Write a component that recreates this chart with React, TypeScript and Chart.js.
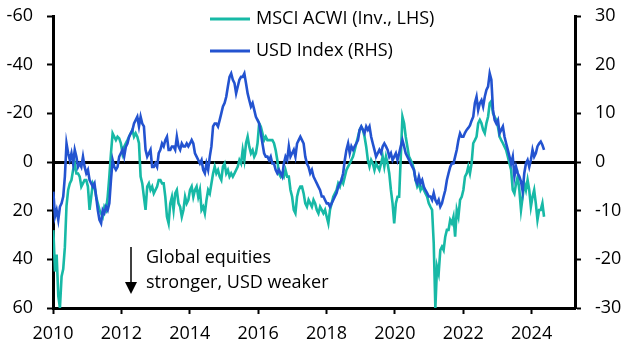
import React, { useEffect, useRef } from "react";
import { Chart, registerables } from "chart.js";

Chart.register(...registerables);

// ---- Data ----
// Regular (roughly fortnightly) date grid, decimal years
const START_YEAR = 2010.01;
const STEP_YEARS = 0.04817;

// MSCI ACWI, y/y % change, inverted (left axis)
const msciInv: number[] = [
  28, 45, 38, 55, 60, 47, 44, 35, 18, 11.5, 8.8, 7.4, 3.3, 0.6, 4.7, 4.7, 6.0, 10.1, 8.8, 7.4,
  7.4, 10.1, 19.7, 14.3, 8.8, 10.1, 14.3, 17.0, 19.7, 21.1, 22.5, 18.4, 19.7, 14.3, 6.0, -3.6, -11.8, -10.4, -9.0, -10.4,
  -9.7, -7.7, -3.6, -6.3, -7.7, -9.0, -10.4, -11.8, -13.2,
  -10.4, -11.8, -10.4, -7.7, 6.0, 8.8, 14.3, 19.7, 10.1, 8.8,
  11.5, 10.1, 12.9, 11.5, 10.1, 7.4, 7.4, 8.8, 8.8, 14.3,
  22.5, 25.2, 17.0, 14.3, 19.7, 12.9, 11.5, 17.0, 18.4, 22.5,
  19.7, 14.3, 17.0, 15.6, 11.5, 10.1, 14.3, 11.5, 10.1, 14.3,
  11.5, 19.7, 18.4, 21.1, 15.6, 11.5, 12.9, 8.8, 4.7, 1.9,
  4.7,
  3.3, 6.0, 7.4, 1.9, 0.6, 4.7, 3.3, 6.0, 4.7, 6.0,
  4.7, 3.3, 1.9, -0.8, 0.6, -4.9, -0.8, -7.7, -10.4, -6.3,
  -3.6, -4.9, -2.2, -3.6, -7.7, -15.9, -14.5, -11.8, -9.0, -10.4,
  -9.0, -9.0, -9.0, -9.0, -7.7, -4.9, -0.8, 4.7, 6.0, 4.7,
  6.0, 3.3, 6.0, 6.0, 11.5, 14.3, 19.7, 21.1, 14.3, 11.5,
  10.1,
  10.1, 12.9, 17.0, 18.4, 15.6, 17.0, 18.4, 15.6, 17.0, 19.7,
  21.1, 18.4, 19.7, 21.1, 19.7, 22.5, 25.2, 19.7, 17.0, 14.3,
  12.9, 11.5, 8.8, 10.1, 7.4, 8.8, 6.0, 3.3, 1.9, 0.6,
  -0.8, -2.2, -4.9, -7.7, -10.4, -13.2, -14.5, -13.2, -10.4, -6.3,
  -0.8, 1.9, -0.8, 0.6, 3.3, 0.6, 1.9, 3.3, 0.6, -2.2,
  1.9,
  -2.2, 0.6, 4.7, 11.5, 17.0, 25.2, 17.0, 14.3, 14.3, -2.2,
  -18.6, -15.9, -10.4, -6.3, -2.2, -0.8, 0.6, 3.3, 7.4, 10.1,
  8.8, 11.5, 10.1, 11.5, 12.9, 14.3, 17.0, 18.4, 19.7, 33.4,
  60, 43.0, 45.8, 36.2, 34.8, 36.2, 30.7, 27.9, 27.9, 23.8,
  25.2, 22.5, 30.7, 19.7, 22.5, 15.6, 14.3, 11.5, 6.0, 4.7,
  1.9,
  4.7, 0.6, -7.7, -9.0, -10.4, -15.9, -17.3, -15.9, -13.2, -11.8,
  -15.9, -18.6, -24.1, -25.0, -20.0, -18.6, -17.3, -14.5, -10.4, -9.0,
  -7.7, -6.3, -4.9, -2.2, 0.6, 3.3, 11.5, 12.9, 8.8, 6.0,
  11.5, 19.7, 14.3, 8.8, 11.5, 7.4, 11.5, 18.4, 14.3, 11.5,
  17.0, 23.8, 19.7, 19.7, 17.0, 22.5,
];

// USD index, y/y % change (right axis)
const usdIndex: number[] = [
  -6.1, -11.2, -9.9, -11.9, -9.2, -8.5, -7.1, -3.0, 3.8, 1.8, 0.4, 1.8, -0.3, 2.5, 1.1, -1.0, -0.3, -1.0, 1.1, -1.0,
  -2.3, -1.6, -3.7, -4.4, -5.1, -4.4, -7.1, -9.9, -11.9, -12.6, -9.9, -10.5, -9.2, -9.9, -8.5, -3.7, 0.4, -1.0, -1.6, -1.0,
  1.1, 1.8, 2.5, 1.1, 3.1, 3.8, 5.2, 5.9, 6.5,
  7.9, 8.6, 9.3, 7.3, 9.3, 7.9, 7.3, 2.5, 1.1, 1.8,
  2.5, -1.0, -1.0, -0.3, -1.0, 1.8, 2.5, 3.8, 3.2, 4.5,
  5.2, 2.5, 2.5, 3.2, 3.2, 2.5, 5.2, 3.2, 2.5, 3.8,
  3.2, 3.2, 3.8, 3.2, 3.8, 4.5, 3.8, 1.8, 1.1, 0.4,
  -0.3, 0.4, -1.6, -2.3, -0.3, -1.6, 1.1, 3.2, 7.3, 7.9,
  7.9,
  7.3, 8.6, 10.0, 11.4, 12.1, 13.4, 15.5, 17.5, 18.2, 16.9,
  16.2, 14.1, 15.5, 16.9, 17.5, 17.5, 18.2, 16.2, 14.1, 12.7,
  11.4, 12.1, 10.7, 9.3, 8.6, 7.9, 5.9, 3.8, 1.8, 1.1,
  1.1, 0.4, 1.1, -0.3, -0.3, -1.6, -2.3, -1.6, -2.3, -3.0,
  -0.3, 1.1, 0.4, 3.2, 1.1, 1.8, 2.5, 1.1, 3.8, 4.5,
  5.2,
  4.5, 3.8, 1.1, -0.3, -1.0, -2.3, -1.6, -3.0, -3.7, -4.4,
  -5.1, -5.8, -7.1, -7.1, -7.8, -8.5, -8.5, -9.2, -8.5, -7.8,
  -7.1, -6.4, -5.1, -4.4, -3.7, -2.3, 0.4, 2.5, 3.8, 1.8,
  3.2, 2.5, 3.2, 3.8, 4.5, 6.6, 7.3, 6.6, 5.9, 7.3,
  6.6, 7.3, 5.2, 3.8, 2.5, 1.1, 1.8, 2.5, 1.8, 3.2,
  3.8,
  3.2, 2.5, 1.1, 1.8, 0.4, 1.1, 1.8, 0.4, 1.8, 3.2,
  4.5, 3.2, 1.8, 1.1, 0.4, -0.3, -1.0, -1.6, -3.7, -4.4,
  -3.0, -4.4, -3.7, -5.1, -5.8, -6.4, -7.1, -7.1, -7.8, -6.4,
  -7.8, -8.5, -7.8, -9.2, -8.5, -7.1, -5.8, -3.7, -2.3, -1.0,
  -0.3, -0.3, 1.1, 2.5, 4.5, 5.9, 5.2, 5.2, 6.0, 6.6,
  7.0,
  7.5, 8.5, 9.3, 12.1, 13.4, 10.7, 12.1, 12.7, 11.4, 13.4,
  14.8, 15.5, 18.2, 16.9, 10.7, 8.6, 7.9, 8.6, 5.9, 6.6,
  7.3, 5.2, 3.8, 2.5, 1.1, -0.3, 1.1, -3.0, -1.0, -2.3,
  -3.0, -4.0, -6.0, -2.3, -0.3, 0.4, -1.0, 0.4, 2.5, 1.1,
  1.8, 3.2, 3.8, 4.2, 3.5, 2.5,
];

const xTicks = [2010, 2012, 2014, 2016, 2018, 2020, 2022, 2024];
const leftTicks = [-60, -40, -20, 0, 20, 40, 60];
const rightTicks = [30, 20, 10, 0, -10, -20, -30];

const X_MIN = 2010;
const X_MAX = 2025.27;

const msciLabel = "MSCI ACWI (Inv., LHS)";
const usdLabel = "USD Index (RHS)";
const noteLines = ["Global equities", "stronger, USD weaker"];

const TEAL = "#17B9A6";
const BLUE = "#2353D0";
const FONT = '"Open Sans", sans-serif';
const FONT_SIZE = 18;

const dates = msciInv.map((_, i) => START_YEAR + i * STEP_YEARS);

const overlayPlugin = {
  id: "overlay",
  afterDraw(chart: any) {
    const ctx = chart.ctx as CanvasRenderingContext2D;
    ctx.save();
    // Legend (stacked)
    const items = [
      { label: msciLabel, color: TEAL },
      { label: usdLabel, color: BLUE },
    ];
    ctx.font = `${FONT_SIZE}px ${FONT}`;
    ctx.textBaseline = "middle";
    ctx.textAlign = "left";
    items.forEach((it, i) => {
      const y = 19 + i * 32;
      ctx.strokeStyle = it.color;
      ctx.lineWidth = 3;
      ctx.beginPath();
      ctx.moveTo(210, y);
      ctx.lineTo(250, y);
      ctx.stroke();
      ctx.fillStyle = "#000";
      ctx.fillText(it.label, 256, y);
    });
    // Annotation arrow
    const ax = 131;
    ctx.strokeStyle = "#000";
    ctx.fillStyle = "#000";
    ctx.lineWidth = 1.5;
    ctx.beginPath();
    ctx.moveTo(ax, 247);
    ctx.lineTo(ax, 284);
    ctx.stroke();
    ctx.beginPath();
    ctx.moveTo(ax - 6, 282);
    ctx.lineTo(ax + 6, 282);
    ctx.lineTo(ax, 294);
    ctx.closePath();
    ctx.fill();
    // Annotation text
    noteLines.forEach((line, i) => {
      ctx.fillText(line, 146, 258 + i * 25);
    });
    ctx.restore();
  },
};

const zeroPad = (s: any) => {
  s.paddingTop = 0;
  s.paddingBottom = 0;
  s.paddingLeft = 0;
  s.paddingRight = 0;
};

export default function App() {
  const ref = useRef<HTMLCanvasElement | null>(null);

  useEffect(() => {
    if (!ref.current) return;
    const tickFont = { family: FONT, size: FONT_SIZE };
    const chart = new Chart(ref.current, {
      type: "line",
      data: {
        datasets: [
          {
            label: usdLabel,
            data: usdIndex.map((v, i) => ({ x: dates[i], y: v })),
            yAxisID: "yR",
            borderColor: BLUE,
            backgroundColor: BLUE,
            borderWidth: 2.6,
            pointRadius: 0,
            tension: 0,
            order: 0,
          },
          {
            label: msciLabel,
            data: msciInv.map((v, i) => ({ x: dates[i], y: v })),
            yAxisID: "yL",
            borderColor: TEAL,
            backgroundColor: TEAL,
            borderWidth: 2.6,
            pointRadius: 0,
            tension: 0,
            order: 1,
          },
        ],
      },
      options: {
        responsive: false,
        maintainAspectRatio: false,
        animation: false,
        devicePixelRatio: 1,
        layout: { padding: { top: 16, left: 0, right: 0, bottom: 0 } },
        plugins: {
          legend: { display: false },
          tooltip: { enabled: false },
        },
        scales: {
          x: {
            type: "linear",
            position: "bottom",
            min: X_MIN,
            max: X_MAX,
            afterFit: (s: any) => {
              s.height = 46;
              zeroPad(s);
            },
            afterBuildTicks: (s: any) => {
              s.ticks = xTicks.map((v) => ({ value: v }));
            },
            grid: {
              drawOnChartArea: false,
              drawTicks: true,
              tickLength: 6,
              tickWidth: 2,
              tickColor: "#000",
              color: "#000",
            },
            border: { display: true, color: "#000", width: 3 },
            ticks: {
              color: "#000",
              font: tickFont,
              padding: 9,
              maxRotation: 0,
              autoSkip: false,
              callback: (v: any) => String(v),
            },
          },
          yL: {
            type: "linear",
            position: "left",
            reverse: true,
            min: -60,
            max: 60,
            afterFit: (s: any) => {
              s.width = 53;
              zeroPad(s);
            },
            afterBuildTicks: (s: any) => {
              s.ticks = leftTicks.map((v) => ({ value: v }));
            },
            grid: {
              drawOnChartArea: true,
              drawTicks: true,
              tickLength: 6,
              tickWidth: 2,
              tickColor: "#000",
              color: (c: any) => (c.tick && c.tick.value === 0 ? "#000" : "rgba(0,0,0,0)"),
              lineWidth: (c: any) => (c.tick && c.tick.value === 0 ? 3 : 1),
            },
            border: { display: true, color: "#000", width: 3 },
            ticks: {
              color: "#000",
              font: tickFont,
              padding: 14,
              callback: (v: any) => String(v),
            },
          },
          yR: {
            type: "linear",
            position: "right",
            min: -30,
            max: 30,
            afterFit: (s: any) => {
              s.width = 57;
              zeroPad(s);
            },
            afterBuildTicks: (s: any) => {
              s.ticks = rightTicks.map((v) => ({ value: v }));
            },
            grid: {
              drawOnChartArea: false,
              drawTicks: true,
              tickLength: 6,
              tickWidth: 2,
              tickColor: "#000",
              color: "#000",
            },
            border: { display: true, color: "#000", width: 3 },
            ticks: {
              color: "#000",
              font: tickFont,
              padding: 14,
              callback: (v: any) => String(v),
            },
          },
        },
      },
      plugins: [overlayPlugin],
    });
    return () => chart.destroy();
  }, []);

  return (
    <div style={{ position: "absolute", left: 0, top: 0, width: 632, height: 354, background: "#fff" }}>
      <canvas ref={ref} width={632} height={354} style={{ display: "block" }} />
    </div>
  );
}
